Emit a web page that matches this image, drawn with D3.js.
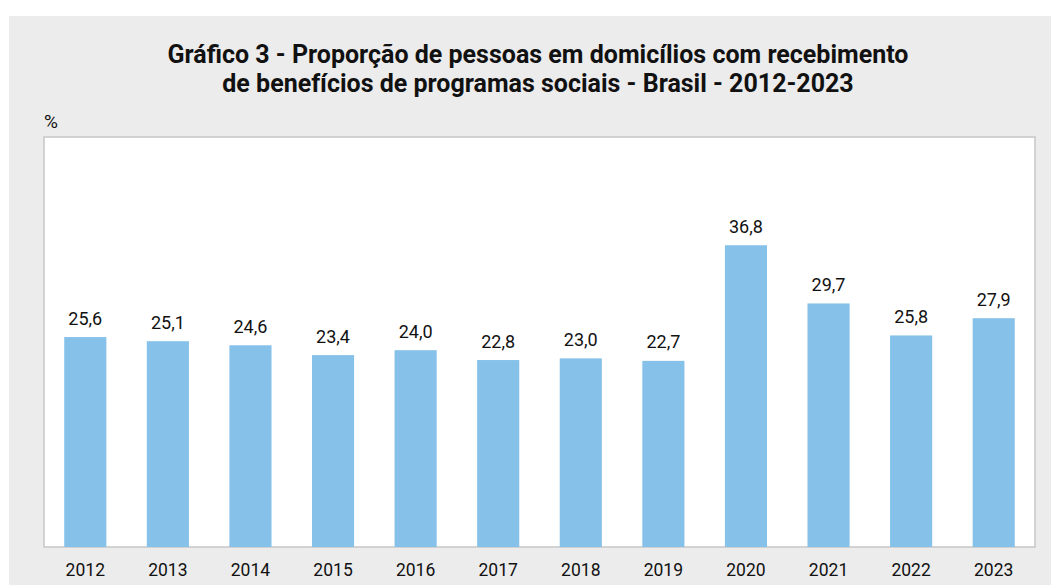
<!DOCTYPE html>
<html>
<head>
<meta charset="utf-8">
<script src="https://cdn.jsdelivr.net/npm/d3@7"></script>
<style>
  body { margin: 0; background: #fff; }
  text { font-family: Roboto, "Liberation Sans", Arial, sans-serif; fill: #111; }
</style>
</head>
<body>
<svg id="chart" width="1051" height="585"></svg>
<script>
// values
var years = ['2012', '2013', '2014', '2015', '2016', '2017', '2018', '2019', '2020', '2021', '2022', '2023'];
var shares = [25.6, 25.1, 24.6, 23.4, 24.0, 22.8, 23.0, 22.7, 36.8, 29.7, 25.8, 27.9];
var titleLines = [
  'Gráfico 3 - Proporção de pessoas em domicílios com recebimento',
  'de benefícios de programas sociais - Brasil - 2012-2023'
];
var yMax = 50;

var svg = d3.select('#chart');

// gray panel behind everything
svg.append('rect')
  .attr('x', 9).attr('y', 16)
  .attr('width', 1042).attr('height', 569)
  .attr('fill', '#ececec');

var plot = { left: 44, top: 137, right: 1035, bottom: 547 };

var x = d3.scaleBand()
  .domain(years)
  .range([plot.left, plot.right])
  .paddingInner(0.49)
  .paddingOuter(0.245);

var y = d3.scaleLinear()
  .domain([0, yMax])
  .range([plot.bottom, plot.top]);

// white plotting area with a soft border
svg.append('rect')
  .attr('x', plot.left).attr('y', plot.top)
  .attr('width', plot.right - plot.left)
  .attr('height', plot.bottom - plot.top)
  .attr('fill', '#fff')
  .attr('stroke', '#c6c6c6')
  .attr('stroke-width', 1.5);

svg.append('g')
  .selectAll('text')
  .data(titleLines)
  .join('text')
  .attr('x', 538)
  .attr('y', function(d, i) { return 63 + i * 28.5; })
  .attr('text-anchor', 'middle')
  .attr('font-weight', 'bold')
  .attr('font-size', 25)
  .text(function(d) { return d; });

svg.append('text')
  .attr('x', 44).attr('y', 128)
  .attr('font-size', 19)
  .text('%');

var data = years.map(function(yr, i) { return { year: yr, value: shares[i] }; });

svg.append('g').attr('class', 'bars')
  .selectAll('rect')
  .data(data)
  .join('rect')
  .attr('x', function(d) { return x(d.year); })
  .attr('y', function(d) { return y(d.value); })
  .attr('width', x.bandwidth())
  .attr('height', function(d) { return y(0) - y(d.value); })
  .attr('fill', '#85c1e9');

var fmt = function(v) { return d3.format('.1f')(v).replace('.', ','); };

svg.append('g').attr('class', 'labels')
  .selectAll('text')
  .data(data)
  .join('text')
  .attr('x', function(d) { return x(d.year) + x.bandwidth() / 2; })
  .attr('y', function(d) { return y(d.value) - 12.5; })
  .attr('text-anchor', 'middle')
  .attr('font-size', 18)
  .text(function(d) { return fmt(d.value); });

// x axis: labels only, no ticks or domain line
var xAxis = svg.append('g')
  .attr('transform', 'translate(0,' + plot.bottom + ')')
  .call(d3.axisBottom(x).tickSize(0).tickPadding(17));
xAxis.select('.domain').remove();
xAxis.selectAll('text')
  .attr('font-size', 17.5)
  .attr('font-family', 'Roboto, "Liberation Sans", Arial, sans-serif')
  .attr('fill', '#111');
</script>
</body>
</html>
